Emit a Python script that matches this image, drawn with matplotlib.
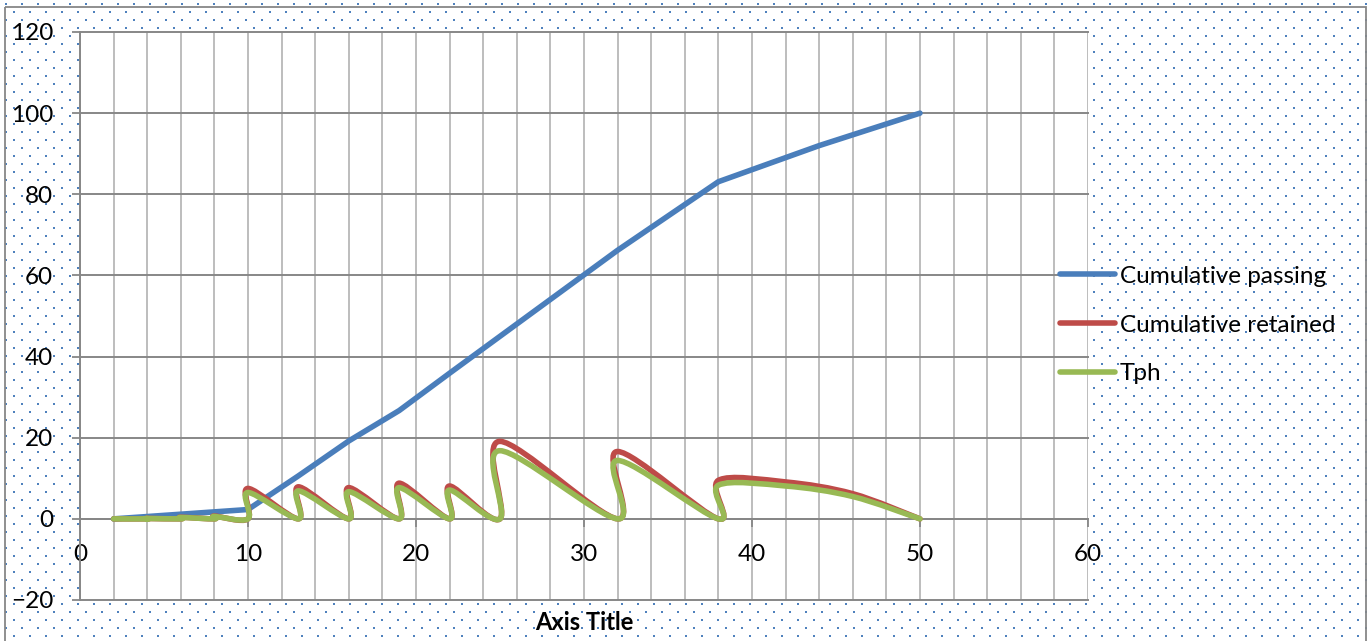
import numpy as np
import matplotlib
matplotlib.use("Agg")
import matplotlib.pyplot as plt
from matplotlib.path import Path
from matplotlib.patches import PathPatch, Rectangle
from matplotlib.lines import Line2D
from matplotlib.ticker import MultipleLocator

plt.rcParams["font.family"] = ["Lato", "DejaVu Sans"]

# ── Data ────────────────────────────────────────────────────────
passing_x = [2, 10, 13, 16, 19, 22, 25, 32, 38, 44, 50]
passing_y = [0, 2.3, 10.6, 19.2, 26.7, 35.9, 45.0, 66.2, 83.1, 92.0, 100]

retained_x = [2, 4, 4, 6, 6, 8, 8, 10, 10, 13, 13, 16, 16, 19, 19, 22, 22,
              25, 25, 32, 32, 38, 38, 42, 46, 50]
retained_y = [0, 0, 0.1, 0, 0.4, 0, 0.7, 0, 7.5, 0, 7.9, 0, 7.7, 0, 8.8, 0, 8.1,
              0, 19.1, 0, 16.6, 0, 9.5, 9.1, 6.2, 0]

tph_x = retained_x
tph_y = [0, 0, 0.1, 0, 0.35, 0, 0.6, 0, 6.5, 0, 6.9, 0, 6.7, 0, 7.7, 0, 7.1,
         0, 16.8, 0, 14.4, 0, 8.3, 8.1, 5.5, 0]

labels = ["Cumulative passing", "Cumulative retained", "Tph"]
colors = ["#4A7EBB", "#BE4B48", "#98B954"]

x_ticks = [0, 10, 20, 30, 40, 50, 60]
y_ticks = [-20, 0, 20, 40, 60, 80, 100, 120]

W, H = 1371, 641
GRID_DARK = "#878787"
GRID_LIGHT = "#BDBDBD"
FS = 17.5
LW = 4.0


def smooth_path(xs, ys):
    # Excel-style smoothed line: Catmull-Rom segments as cubic Beziers
    pts = np.column_stack([xs, ys]).astype(float)
    n = len(pts)
    verts = [pts[0]]
    codes = [Path.MOVETO]
    for i in range(n - 1):
        p0 = pts[max(i - 1, 0)]
        p1 = pts[i]
        p2 = pts[i + 1]
        p3 = pts[min(i + 2, n - 1)]
        verts += [p1 + (p2 - p0) / 6, p2 - (p3 - p1) / 6, p2]
        codes += [Path.CURVE4] * 3
    return Path(verts, codes)


fig = plt.figure(figsize=(W / 100, H / 100), dpi=100)

# ── Chart-area background: dotted fill + border ─────────────────
bg = fig.add_axes([0, 0, 1, 1], zorder=-5)
bg.set_xlim(0, W)
bg.set_ylim(H, 0)
bg.axis("off")
dx, dy = [], []
for r, yy in enumerate(np.arange(4, H + 8, 8)):
    off = 6 if r % 2 == 0 else 14
    xs = np.arange(off, W, 16)
    dx.extend(xs)
    dy.extend([yy] * len(xs))
bg.scatter(dx, dy, s=3.0, marker="s", color="#4F81BD", linewidths=0)
bg.add_patch(Rectangle((5, 7), 1361, 650, fill=False,
                       edgecolor=GRID_DARK, lw=1.3))

# ── Plot area ────────────────────────────────────────────────────
ax = fig.add_axes([80 / W, 41 / H, 1008 / W, 568 / H])
ax.set_facecolor("white")
ax.set_xlim(0, 60)
ax.set_ylim(-20, 120)
ax.set_xticks(x_ticks)
ax.set_yticks(y_ticks)
ax.xaxis.set_minor_locator(MultipleLocator(2))
ax.set_axisbelow(True)

ax.grid(True, which="both", axis="x", color=GRID_LIGHT, lw=1.4)
ax.grid(True, which="major", axis="y", color=GRID_DARK, lw=1.4)
for gl in ax.get_ygridlines() + ax.get_xgridlines():
    gl.set_clip_on(False)

for s in ["top", "right"]:
    ax.spines[s].set_visible(False)
ax.spines["left"].set_color(GRID_DARK)
ax.spines["left"].set_linewidth(1.4)
ax.spines["bottom"].set_position(("data", 0))
ax.spines["bottom"].set_color(GRID_DARK)
ax.spines["bottom"].set_linewidth(1.4)

ax.tick_params(axis="y", direction="out", length=5.8, width=1.3,
               color=GRID_DARK, pad=13.5, labelsize=FS)
ax.tick_params(axis="x", which="major", direction="out", length=5.8,
               width=1.3, color=GRID_DARK, pad=12.5, labelsize=FS)
ax.tick_params(axis="x", which="minor", length=0)

# ── Series ───────────────────────────────────────────────────────
ax.plot(passing_x, passing_y, color=colors[0], lw=LW,
        solid_capstyle="round", solid_joinstyle="round", zorder=3)
for xs, ys, c, z in [(retained_x, retained_y, colors[1], 4),
                     (tph_x, tph_y, colors[2], 5)]:
    ax.add_patch(PathPatch(smooth_path(xs, ys), fill=False, edgecolor=c,
                           lw=LW, capstyle="round", joinstyle="round",
                           zorder=z))

handles = [Line2D([], [], color=c, lw=LW, solid_capstyle="round")
           for c in colors]
fig.legend(handles, labels, loc="center left",
           bbox_to_anchor=(1060 / W, (H - 325) / H),
           bbox_transform=fig.transFigure, frameon=False, fontsize=FS,
           handlelength=2.26, handletextpad=0.2, labelspacing=1.15,
           borderpad=0, borderaxespad=0)

fig.text(584 / W, (H - 622) / H, "Axis Title", ha="center", va="center",
         fontsize=17, fontweight="bold")

fig.savefig("out.png", dpi=100)
